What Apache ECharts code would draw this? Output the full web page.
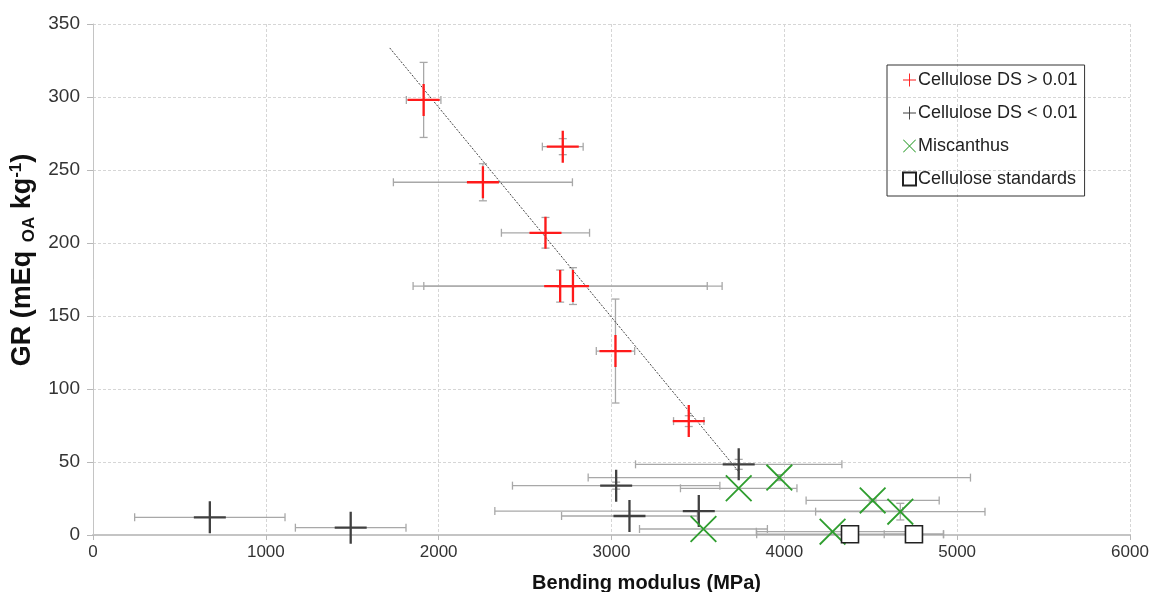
<!DOCTYPE html>
<html>
<head>
<meta charset="utf-8">
<script src="https://cdn.jsdelivr.net/npm/echarts@6/dist/echarts.min.js"></script>
<style>
html,body{margin:0;padding:0;background:#fff;}
#chart{width:1154px;height:592px;}
</style>
</head>
<body>
<div id="chart"></div>
<script>
// ---- Data ----
const xTicks = [0, 1000, 2000, 3000, 4000, 5000, 6000];
const yTicks = [0, 50, 100, 150, 200, 250, 300, 350];

const redName = 'Cellulose DS > 0.01';
const redX    = [1913, 2718, 2256, 2618, 2703, 2777, 3023, 3447];
const redY    = [298, 266, 241.6, 207, 170.5, 170.5, 126, 78];
const redXErr = [100, 118, 518, 255, 851, 863, 111, 88];
const redYErr = [25.7, 5.5, 12.7, 10.5, 11, 12.6, 35.6, 3.7];

const blackName = 'Cellulose DS < 0.01';
const blackX    = [676, 1491, 3027, 3104, 3505, 3736];
const blackY    = [12.1, 5, 33.8, 13, 16.4, 48.4];
const blackXErr = [435, 320, 600, 393, 1180, 597];
const blackYErr = [0, 0, 2.4, 0, 0, 3.4];

const miscName = 'Miscanthus';
const miscX    = [3532, 3736, 3971, 4279, 4511, 4671];
const miscY    = [4.1, 32, 39.3, 2.3, 23.7, 16];
const miscXErr = [370, 337, 1106, 441, 385, 490];
const miscYErr = [0, 0, 2, 0, 1, 5.7];

const stdName = 'Cellulose standards';
const stdX    = [4380, 4750];
const stdY    = [0.5, 0.5];
const stdXErr = [540, 172];
const stdYErr = [0, 0];

const trendX = [1717, 3740];
const trendY = [333.6, 42.8];

// ---- Helpers ----
const FONT = "'Liberation Sans', Arial, sans-serif";
const zip = (xs, ys) => xs.map((v, i) => [v, ys[i]]);
const zip4 = (xs, ys, ex, ey) => xs.map((v, i) => [v, ys[i], ex[i], ey[i]]);

const PLUS = 'path://M-1.15,-16L1.15,-16L1.15,-1.15L16,-1.15L16,1.15L1.15,1.15L1.15,16L-1.15,16L-1.15,1.15L-16,1.15L-16,-1.15L-1.15,-1.15Z';
const CROSS = 'path://M-16.8,-15.2L15.2,16.8L16.8,15.2L-15.2,-16.8Z M16.8,-15.2L15.2,-16.8L-16.8,15.2L-15.2,16.8Z';

function errRender(params, api) {
  const x = api.value(0), y = api.value(1), ex = api.value(2), ey = api.value(3);
  const st = { stroke: '#a8a8a8', lineWidth: 1.3 };
  const ch = [];
  const cap = 4;
  if (ex > 0) {
    const l = api.coord([x - ex, y]), r = api.coord([x + ex, y]);
    ch.push({ type: 'line', shape: { x1: l[0], y1: l[1], x2: r[0], y2: r[1] }, style: st });
    ch.push({ type: 'line', shape: { x1: l[0], y1: l[1] - cap, x2: l[0], y2: l[1] + cap }, style: st });
    ch.push({ type: 'line', shape: { x1: r[0], y1: r[1] - cap, x2: r[0], y2: r[1] + cap }, style: st });
  }
  if (ey > 0) {
    const t = api.coord([x, y + ey]), b = api.coord([x, y - ey]);
    ch.push({ type: 'line', shape: { x1: t[0], y1: t[1], x2: b[0], y2: b[1] }, style: st });
    ch.push({ type: 'line', shape: { x1: t[0] - cap, y1: t[1], x2: t[0] + cap, y2: t[1] }, style: st });
    ch.push({ type: 'line', shape: { x1: b[0] - cap, y1: b[1], x2: b[0] + cap, y2: b[1] }, style: st });
  }
  return { type: 'group', children: ch };
}
function errSeries(id, data) {
  return { type: 'custom', name: id, renderItem: errRender, data: data, z: 1, silent: true, clip: false };
}

const chart = echarts.init(document.getElementById('chart'), null, { renderer: 'canvas' });
chart.setOption({
  animation: false,
  backgroundColor: '#fff',
  textStyle: { fontFamily: FONT },
  grid: { left: 93, right: 24, top: 24, bottom: 57, containLabel: false, outerBoundsMode: 'none' },
  legend: {
    data: [redName, blackName, miscName, stdName],
    orient: 'vertical',
    left: 887, top: 65,
    padding: [6, 7, 8, 15],
    itemGap: 15,
    itemWidth: 13, itemHeight: 13,
    borderColor: '#333', borderWidth: 1,
    textStyle: { fontSize: 18, color: '#222', fontFamily: FONT, padding: [0, 0, 0, -3] },
    selectedMode: false
  },
  xAxis: {
    type: 'value', min: 0, max: 6000, interval: 1000,
    name: 'Bending modulus (MPa)', nameLocation: 'middle', nameGap: 38,
    nameTextStyle: { fontSize: 20, fontWeight: 'bold', color: '#111', fontFamily: FONT, padding: [0, 0, 0, 70] },
    axisLine: { lineStyle: { color: '#c4c4c4', width: 2 } },
    axisTick: { show: true, length: 5, lineStyle: { color: '#b8b8b8' } },
    axisLabel: { fontSize: 17, color: '#333', margin: 9, formatter: v => xTicks.includes(v) ? String(v) : '' },
    splitLine: { show: true, lineStyle: { color: '#d6d6d6', type: [3, 2], width: 1 } }
  },
  yAxis: {
    type: 'value', min: 0, max: 350, interval: 50,
    name: '{a|GR (mEq }{s|OA}{a| kg}{p|-1}{a|)}',
    nameLocation: 'middle', nameGap: 41,
    nameTextStyle: {
      fontFamily: FONT, color: '#111', padding: [0, 0, 0, 39],
      rich: {
        a: { fontSize: 27, fontWeight: 'bold', color: '#111', lineHeight: 30, fontFamily: FONT },
        s: { fontSize: 17, fontWeight: 'bold', color: '#111', verticalAlign: 'bottom', lineHeight: 17, fontFamily: FONT, padding: [8, 0, 0, 1] },
        p: { fontSize: 17, fontWeight: 'bold', color: '#111', verticalAlign: 'top', lineHeight: 17, fontFamily: FONT, padding: [0, 0, 8, 0] }
      }
    },
    axisLine: { show: true, lineStyle: { color: '#c4c4c4', width: 1 } },
    axisTick: { show: true, length: 6, lineStyle: { color: '#b8b8b8' } },
    axisLabel: { fontSize: 19, color: '#333', margin: 13, formatter: v => yTicks.includes(v) ? String(v) : '' },
    splitLine: { show: true, lineStyle: { color: '#d6d6d6', type: [3, 2], width: 1 } }
  },
  series: [
    errSeries('errRed', zip4(redX, redY, redXErr, redYErr)),
    errSeries('errBlack', zip4(blackX, blackY, blackXErr, blackYErr)),
    errSeries('errMisc', zip4(miscX, miscY, miscXErr, miscYErr)),
    errSeries('errStd', zip4(stdX, stdY, stdXErr, stdYErr)),
    {
      type: 'line', name: 'trend', data: zip(trendX, trendY), showSymbol: false, silent: true, z: 2,
      lineStyle: { color: '#444', width: 1, type: [2, 1.5] }
    },
    {
      type: 'scatter', name: redName, data: zip(redX, redY), symbol: PLUS, symbolSize: 32, z: 5,
      itemStyle: { color: '#ff1a1a', opacity: 1 }
    },
    {
      type: 'scatter', name: blackName, data: zip(blackX, blackY), symbol: PLUS, symbolSize: 32, z: 5,
      itemStyle: { color: '#404040', opacity: 1 }
    },
    {
      type: 'scatter', name: miscName, data: zip(miscX, miscY), symbol: CROSS, symbolSize: 27, z: 5,
      itemStyle: { color: '#2f9e2f', opacity: 1 }
    },
    {
      type: 'scatter', name: stdName, data: zip(stdX, stdY), symbol: 'rect', symbolSize: 17, z: 6,
      itemStyle: { color: '#ffffff', borderColor: '#222', borderWidth: 1.6, opacity: 1 }
    }
  ]
});
</script>
</body>
</html>
